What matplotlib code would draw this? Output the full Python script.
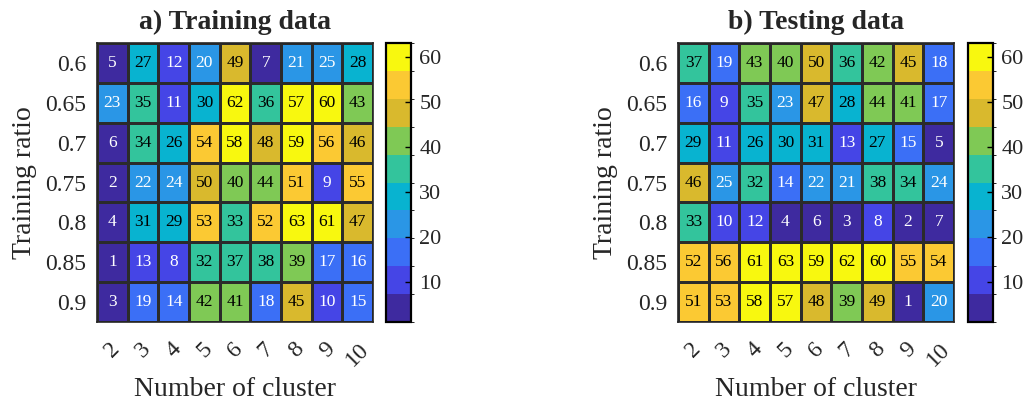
import matplotlib as mpl
import matplotlib.pyplot as plt
import numpy as np
from matplotlib.colors import ListedColormap, BoundaryNorm

plt.rcParams['font.family'] = 'Liberation Serif'
plt.rcParams['mathtext.fontset'] = 'stix'

# data
clusters = ['2', '3', '4', '5', '6', '7', '8', '9', '10']
ratios = ['0.6', '0.65', '0.7', '0.75', '0.8', '0.85', '0.9']

train = np.array([
    [5, 27, 12, 20, 49, 7, 21, 25, 28],
    [23, 35, 11, 30, 62, 36, 57, 60, 43],
    [6, 34, 26, 54, 58, 48, 59, 56, 46],
    [2, 22, 24, 50, 40, 44, 51, 9, 55],
    [4, 31, 29, 53, 33, 52, 63, 61, 47],
    [1, 13, 8, 32, 37, 38, 39, 17, 16],
    [3, 19, 14, 42, 41, 18, 45, 10, 15],
])
test = np.array([
    [37, 19, 43, 40, 50, 36, 42, 45, 18],
    [16, 9, 35, 23, 47, 28, 44, 41, 17],
    [29, 11, 26, 30, 31, 13, 27, 15, 5],
    [46, 25, 32, 14, 22, 21, 38, 34, 24],
    [33, 10, 12, 4, 6, 3, 8, 2, 7],
    [52, 56, 61, 63, 59, 62, 60, 55, 54],
    [51, 53, 58, 57, 48, 39, 49, 1, 20],
])

# parula, 10 levels
colors = ['#3e2a9f', '#4545e6', '#3b6ff6', '#2a96e6', '#08b3d0',
          '#33c49c', '#7fc955', '#d9b92d', '#fbc933', '#f8f80f']
cmap = ListedColormap(colors)
levels = np.linspace(1, 63, 11)
norm = BoundaryNorm(levels, cmap.N)

fig = plt.figure(figsize=(10.3, 4.07), dpi=100)

panels = [
    (train, 'a) Training data', 0.0942, 0.3748),
    (test, 'b) Testing data', 0.6583, 0.9398),
]

tc = '#262626'
for data, title, x0, cx0 in panels:
    ax = fig.add_axes([x0, 0.2088, 0.268, 0.6855])
    cax = fig.add_axes([cx0, 0.2088, 0.0243, 0.6855])
    mesh = ax.pcolormesh(data, cmap=cmap, norm=norm, edgecolors='#2b2b2b', linewidth=0.8)
    ax.set_xlim(0, data.shape[1])
    ax.set_ylim(data.shape[0], 0)
    for i in range(data.shape[0]):
        for j in range(data.shape[1]):
            v = data[i, j]
            c = 'white' if v < 25.8 else 'black'
            ax.text(j + 0.5, i + 0.5, str(v), ha='center', va='center', fontsize=12.5, color=c)
    ax.set_xticks(np.arange(data.shape[1]) + 0.5)
    ax.set_xticklabels(clusters, rotation=45, ha='center', va='top', fontsize=17, color=tc)
    ax.set_yticks(np.arange(data.shape[0]) + 0.5)
    ax.set_yticklabels(ratios, fontsize=17, color=tc)
    ax.tick_params(axis='x', length=0, pad=12)
    ax.tick_params(axis='y', length=0, pad=8)
    ax.set_title(title, fontsize=20, fontweight='bold', color=tc, pad=10)
    ax.set_xlabel('Number of cluster', fontsize=20, color=tc, labelpad=5)
    ax.set_ylabel('Training ratio', fontsize=20, color=tc, labelpad=6)
    for s in ax.spines.values():
        s.set_linewidth(1.2)
        s.set_color(tc)

    cb = fig.colorbar(mesh, cax=cax, ticks=[10, 20, 30, 40, 50, 60])
    cb.outline.set_linewidth(1.6)
    cb.ax.tick_params(labelsize=16, direction='in', length=4, width=1, labelcolor=tc, pad=6)

fig.savefig('out.png', dpi=100)
